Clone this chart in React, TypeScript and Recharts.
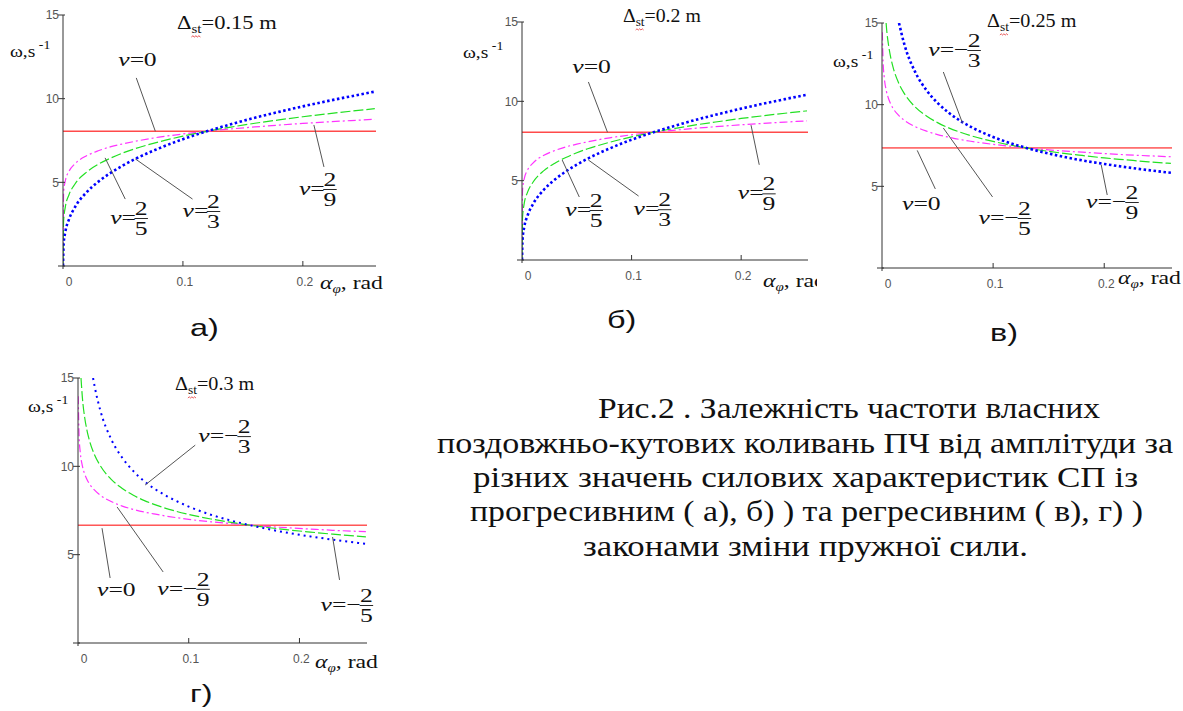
import React from 'react';
import { LineChart, Line, XAxis, YAxis, ReferenceLine, ReferenceDot } from 'recharts';

// amplitude grid (rad) and frequency values (1/s)
const alphaAB = [0, 0.0005, 0.002, 0.005, 0.01, 0.02, 0.03, 0.04, 0.05, 0.06, 0.08, 0.1, 0.12, 0.14, 0.16, 0.18, 0.2, 0.22, 0.24, 0.26];
const omegaAB_23 = [0, 1.3, 2.06, 2.79, 3.52, 4.43, 5.07, 5.58, 6.01, 6.39, 7.03, 7.58, 8.05, 8.47, 8.86, 9.21, 9.54, 9.85, 10.14, 10.42];
const omegaAB_25 = [0, 2.69, 3.55, 4.26, 4.9, 5.63, 6.1, 6.46, 6.76, 7.01, 7.42, 7.76, 8.05, 8.3, 8.53, 8.73, 8.92, 9.09, 9.25, 9.4];
const omegaAB_29 = [0, 4.38, 5.11, 5.66, 6.11, 6.6, 6.9, 7.13, 7.3, 7.45, 7.7, 7.89, 8.05, 8.19, 8.31, 8.42, 8.52, 8.61, 8.69, 8.77];

const alphaFlat = [0, 0.261];
const omegaAB_0 = [8.05, 8.05];
const omegaC_0 = [7.35, 7.35];
const omegaD_0 = [6.67, 6.67];

const alphaC_23 = [0.0153, 0.02, 0.03, 0.04, 0.05, 0.06, 0.07, 0.08, 0.1, 0.12, 0.13, 0.14, 0.16, 0.18, 0.2, 0.22, 0.24, 0.26];
const omegaC_23 = [15.0, 13.72, 11.98, 10.89, 10.11, 9.51, 9.03, 8.64, 8.02, 7.55, 7.35, 7.17, 6.86, 6.59, 6.37, 6.17, 5.99, 5.83];
const alphaC_25 = [0.0037, 0.004, 0.006, 0.008, 0.01, 0.015, 0.02, 0.03, 0.04, 0.05, 0.06, 0.07, 0.08, 0.1, 0.12, 0.13, 0.14, 0.16, 0.18, 0.2, 0.22, 0.24, 0.26];
const omegaC_25 = [15.0, 14.74, 13.6, 12.84, 12.28, 11.32, 10.69, 9.85, 9.31, 8.9, 8.58, 8.32, 8.1, 7.75, 7.47, 7.35, 7.24, 7.05, 6.89, 6.74, 6.62, 6.5, 6.4];
const alphaC_29 = [0.0003, 0.001, 0.002, 0.004, 0.006, 0.008, 0.01, 0.015, 0.02, 0.03, 0.04, 0.05, 0.06, 0.07, 0.08, 0.1, 0.12, 0.13, 0.14, 0.16, 0.18, 0.2, 0.22, 0.24, 0.26];
const omegaC_29 = [14.43, 12.62, 11.69, 10.82, 10.35, 10.02, 9.77, 9.34, 9.05, 8.65, 8.38, 8.17, 8.01, 7.87, 7.76, 7.57, 7.42, 7.35, 7.29, 7.18, 7.09, 7.01, 6.93, 6.87, 6.81];

const alphaD_23 = [0.0136, 0.015, 0.02, 0.03, 0.04, 0.05, 0.06, 0.07, 0.08, 0.1, 0.12, 0.14, 0.155, 0.17, 0.19, 0.21, 0.23, 0.26];
const omegaD_23 = [15.0, 14.53, 13.2, 11.53, 10.48, 9.73, 9.15, 8.69, 8.32, 7.72, 7.26, 6.9, 6.67, 6.47, 6.23, 6.03, 5.85, 5.61];
const alphaD_25 = [0.0027, 0.004, 0.006, 0.008, 0.01, 0.015, 0.02, 0.03, 0.04, 0.05, 0.06, 0.07, 0.08, 0.1, 0.12, 0.14, 0.155, 0.17, 0.19, 0.21, 0.23, 0.26];
const omegaD_25 = [15.0, 13.86, 12.78, 12.07, 11.54, 10.64, 10.05, 9.26, 8.75, 8.36, 8.06, 7.82, 7.61, 7.28, 7.02, 6.81, 6.67, 6.55, 6.4, 6.28, 6.16, 6.01];
const alphaD_29 = [0.0002, 0.001, 0.002, 0.004, 0.006, 0.008, 0.01, 0.015, 0.02, 0.03, 0.04, 0.05, 0.06, 0.07, 0.08, 0.1, 0.12, 0.14, 0.155, 0.17, 0.19, 0.21, 0.23, 0.26];
const omegaD_29 = [13.97, 11.68, 10.82, 10.01, 9.57, 9.27, 9.04, 8.65, 8.37, 8.01, 7.75, 7.56, 7.41, 7.29, 7.18, 7.0, 6.86, 6.75, 6.67, 6.6, 6.52, 6.45, 6.38, 6.3];

const xTicks = [0, 0.1, 0.2];
const yTicks = [0, 5, 10, 15];

const captionLines = [
  'Рис.2 . Залежність частоти власних',
  'поздовжньо-кутових коливань ПЧ від амплітуди за',
  'різних значень силових характеристик СП із',
  'прогресивним ( а), б) ) та регресивним ( в), г) )',
  'законами зміни пружної сили.',
];

const SERIF = 'Liberation Serif';
const SANS = 'Liberation Sans';

const pts = (xs: number[], ys: number[]) => xs.map((x, i) => ({ x, y: ys[i] }));

type Lab = { x: number; y: number; zero?: boolean; neg?: boolean; den?: number };
type Seg = [number, number, number, number];

// annotation positions (data coords)
const labelsA: Lab[] = [
  { x: 0.046, y: 12.3, zero: true },
  { x: 0.0393, y: 2.87, den: 5 },
  { x: 0.0996, y: 3.29, den: 3 },
  { x: 0.1967, y: 4.6, den: 9 },
];
const leadersA: Seg[] = [
  [0.0611, 11.24, 0.077, 8.05],
  [0.0519, 4.0, 0.0351, 6.46],
  [0.108, 4.0, 0.0603, 6.4],
  [0.2176, 5.92, 0.2092, 8.43],
];
const labelsB: Lab[] = [
  { x: 0.0459, y: 12.16, zero: true },
  { x: 0.0394, y: 3.15, den: 5 },
  { x: 0.1018, y: 3.2, den: 3 },
  { x: 0.197, y: 4.2, den: 9 },
];
const leadersB: Seg[] = [
  [0.0606, 11.22, 0.078, 8.05],
  [0.0523, 3.97, 0.0367, 6.3],
  [0.1064, 4.03, 0.0606, 6.3],
  [0.2165, 6.0, 0.209, 8.5],
];
const labelsC: Lab[] = [
  { x: 0.0416, y: 13.35, neg: true, den: 3 },
  { x: 0.0181, y: 3.92, zero: true },
  { x: 0.0869, y: 3.06, neg: true, den: 5 },
  { x: 0.1837, y: 4.04, neg: true, den: 9 },
];
const leadersC: Seg[] = [
  [0.0552, 12.0, 0.0724, 8.88],
  [0.048, 4.84, 0.0317, 7.2],
  [0.0995, 4.35, 0.0552, 8.57],
  [0.2027, 4.47, 0.1973, 6.31],
];
const labelsD: Lab[] = [
  { x: 0.1086, y: 11.71, neg: true, den: 3 },
  { x: 0.0172, y: 3.0, zero: true },
  { x: 0.0715, y: 3.07, neg: true, den: 9 },
  { x: 0.219, y: 2.15, neg: true, den: 5 },
];
const leadersD: Seg[] = [
  [0.1059, 11.2, 0.0606, 8.94],
  [0.029, 3.68, 0.0217, 6.5],
  [0.0769, 4.02, 0.0353, 7.7],
  [0.2362, 3.57, 0.2299, 6.0],
];

function XTick(props: any) {
  const { x, y, payload } = props;
  const v = payload.value;
  return (
    <g>
      <line x1={x} x2={x} y1={y} y2={v === 0 ? y + 3 : y - 5} stroke="#333" />
      <text x={x + (v === 0 ? 6 : 2)} y={y + 20} textAnchor="middle" fontFamily={SANS} fontSize={12} fill="#555">
        {String(v)}
      </text>
    </g>
  );
}

function YTick(props: any) {
  const { x, y, payload } = props;
  const v = payload.value;
  return (
    <g>
      <line x1={x - 5} x2={x + 2} y1={y} y2={y} stroke="#333" />
      {v > 0 && (
        <text x={x - 4} y={y} dy="0.35em" textAnchor="end" fontFamily={SANS} fontSize={12} fill="#555">
          {v}
        </text>
      )}
    </g>
  );
}

function NuLabel({ cx, cy, lab }: { cx: number; cy: number; lab: Lab }) {
  const fs = 19;
  const fx = lab.neg ? 34 : 23;
  return (
    <g transform={`translate(${cx},${cy}) scale(1.35,1)`} fontFamily={SERIF} fill="#111">
      <text x={0} y={6} fontSize={fs} fontStyle="italic" fontFamily={SERIF}>ν</text>
      <text x={8.5} y={6} fontSize={fs} fontFamily={SERIF}>=</text>
      {lab.zero ? (
        <text x={19} y={6} fontSize={fs} fontFamily={SERIF}>0</text>
      ) : (
        <g>
          {lab.neg && <text x={19} y={6} fontSize={fs} fontFamily={SERIF}>−</text>}
          <text x={fx} y={-3} textAnchor="middle" fontSize={fs} fontFamily={SERIF}>2</text>
          <line x1={fx - 5} x2={fx + 5} y1={0.5} y2={0.5} stroke="#111" strokeWidth={0.9} />
          <text x={fx} y={17} textAnchor="middle" fontSize={fs} fontFamily={SERIF}>{lab.den}</text>
        </g>
      )}
    </g>
  );
}

type PanelProps = {
  left: number; top: number; w: number; h: number;
  margin: { top: number; right: number; bottom: number; left: number };
  blue: { x: number; y: number }[];
  green: { x: number; y: number }[];
  pink: { x: number; y: number }[];
  red: { x: number; y: number }[];
  labels: Lab[]; leaders: Seg[];
  thinRed?: boolean;
  thinBlue?: boolean;
};

function Panel(p: PanelProps) {
  return (
    <div style={{ position: 'absolute', left: p.left, top: p.top }}>
      <LineChart width={p.w} height={p.h} margin={p.margin}>
        <XAxis type="number" dataKey="x" domain={[0, 0.261]} ticks={xTicks} interval={0} height={1}
          tickSize={0} tickMargin={0} tickLine={false} tick={<XTick />} axisLine={{ stroke: '#333' }} allowDataOverflow />
        <YAxis type="number" domain={[0, 15]} ticks={yTicks} interval={0} width={1}
          tickSize={0} tickMargin={0} tickLine={false} tick={<YTick />} axisLine={{ stroke: '#333' }} allowDataOverflow />
        <Line data={p.red} dataKey="y" type="linear" stroke={p.thinRed ? '#ff0000' : '#ff4a4a'}
          strokeWidth={p.thinRed ? 1 : 1.6} dot={false} isAnimationActive={false} />
        <Line data={p.pink} dataKey="y" type="monotone" stroke="#ff33ff" strokeWidth={1.2}
          strokeDasharray="8 3 2 3" dot={false} isAnimationActive={false} />
        <Line data={p.green} dataKey="y" type="monotone" stroke="#22e022" strokeWidth={1.2}
          strokeDasharray="10 3" dot={false} isAnimationActive={false} />
        <Line data={p.blue} dataKey="y" type="monotone" stroke="#0000ff"
          strokeWidth={p.thinBlue ? 2 : 2.6} strokeDasharray={p.thinBlue ? '2 4' : '2.5 2.5'} dot={false} isAnimationActive={false} />
        {p.leaders.map((s, i) => (
          <ReferenceLine key={'l' + i} segment={[{ x: s[0], y: s[1] }, { x: s[2], y: s[3] }]}
            stroke="#555" strokeWidth={1} ifOverflow="visible" />
        ))}
        {p.labels.map((lab, i) => (
          <ReferenceDot key={'d' + i} x={lab.x} y={lab.y} r={0} ifOverflow="visible"
            shape={(sp: any) => <NuLabel cx={sp.cx} cy={sp.cy} lab={lab} />} />
        ))}
      </LineChart>
    </div>
  );
}

function Title({ x, y, val, sx }: { x: number; y: number; val: string; sx: number }) {
  return (
    <g transform={`translate(${x},${y}) scale(${sx},1)`} fill="#111">
      <text fontSize={18} fontFamily={SERIF}>
        Δ<tspan fontSize={12} dy={4}>st</tspan>
        <tspan dy={-4}>={val} m</tspan>
      </text>
      <path d="M11.5,8 l1.2,-1.2 l1.2,1.2 l1.2,-1.2 l1.2,1.2 l1.2,-1.2 l1.2,1.2" stroke="#e02020" strokeWidth={0.7} fill="none" />
    </g>
  );
}

function OmegaLabel({ x, y }: { x: number; y: number }) {
  return (
    <g transform={`translate(${x},${y}) scale(1.15,1)`} fill="#111">
      <text fontSize={17} fontFamily={SERIF}>
        ω,s<tspan fontSize={12} dy={-8}> -1</tspan>
      </text>
    </g>
  );
}

function AlphaLabel({ x, y }: { x: number; y: number }) {
  return (
    <g transform={`translate(${x},${y}) scale(1.25,1)`} fill="#111">
      <text fontSize={19} fontFamily={SERIF}>
        <tspan fontStyle="italic">α</tspan>
        <tspan fontSize={12} fontStyle="italic" dy={4}>φ</tspan>
        <tspan dy={-4}>, rad</tspan>
      </text>
    </g>
  );
}

function Letter({ x, y, t }: { x: number; y: number; t: string }) {
  return (
    <g transform={`translate(${x},${y}) scale(1.35,1)`}>
      <text fontFamily={SANS} fontSize={24} fill="#111">{t}</text>
    </g>
  );
}

const captionPos = [
  { x: 598, y: 418, w: 502 },
  { x: 437, y: 453, w: 736 },
  { x: 473, y: 487, w: 665 },
  { x: 470, y: 521, w: 673 },
  { x: 583, y: 556, w: 445 },
];

export default function App() {
  return (
    <div style={{ position: 'absolute', left: 0, top: 0, width: 1183, height: 711, background: '#fff', overflow: 'hidden' }}>
      <Panel left={0} top={0} w={400} h={300} margin={{ top: 15, right: 24, bottom: 33, left: 62 }}
        blue={pts(alphaAB, omegaAB_23)} green={pts(alphaAB, omegaAB_25)} pink={pts(alphaAB, omegaAB_29)}
        red={pts(alphaFlat, omegaAB_0)} labels={labelsA} leaders={leadersA} />
      <Panel left={420} top={0} w={397} h={300} margin={{ top: 22, right: 9, bottom: 39, left: 101 }}
        blue={pts(alphaAB, omegaAB_23)} green={pts(alphaAB, omegaAB_25)} pink={pts(alphaAB, omegaAB_29)}
        red={pts(alphaFlat, omegaAB_0)} labels={labelsB} leaders={leadersB} />
      <Panel left={817} top={0} w={366} h={300} margin={{ top: 23, right: 11, bottom: 31, left: 64 }}
        blue={pts(alphaC_23, omegaC_23)} green={pts(alphaC_25, omegaC_25)} pink={pts(alphaC_29, omegaC_29)}
        red={pts(alphaFlat, omegaC_0)} labels={labelsC} leaders={leadersC} thinRed />
      <Panel left={0} top={360} w={400} h={330} margin={{ top: 18, right: 33, bottom: 46, left: 77 }}
        blue={pts(alphaD_23, omegaD_23)} green={pts(alphaD_25, omegaD_25)} pink={pts(alphaD_29, omegaD_29)}
        red={pts(alphaFlat, omegaD_0)} labels={labelsD} leaders={leadersD} thinRed thinBlue />

      <svg width={1183} height={711} style={{ position: 'absolute', left: 0, top: 0, pointerEvents: 'none' }}>
        <defs>
          <clipPath id="clipB"><rect x={0} y={0} width={817} height={711} /></clipPath>
        </defs>
        <Title x={177} y={29} val="0.15" sx={1.25} />
        <Title x={623} y={22} val="0.2" sx={1.1} />
        <Title x={987} y={27} val="0.25" sx={1.12} />
        <Title x={175} y={390} val="0.3" sx={1.12} />

        <OmegaLabel x={10} y={57} />
        <OmegaLabel x={463} y={58} />
        <OmegaLabel x={833} y={67} />
        <OmegaLabel x={28} y={412} />

        <AlphaLabel x={320} y={289} />
        <g clipPath="url(#clipB)"><AlphaLabel x={763} y={287} /></g>
        <AlphaLabel x={1118} y={284} />
        <AlphaLabel x={315} y={668} />

        <Letter x={190} y={336} t="а)" />
        <Letter x={607} y={328} t="б)" />
        <Letter x={990} y={341} t="в)" />
        <Letter x={190} y={702} t="г)" />

        {captionLines.map((line, i) => (
          <text key={i} x={captionPos[i].x} y={captionPos[i].y} textLength={captionPos[i].w}
            lengthAdjust="spacingAndGlyphs" fontFamily={SERIF} fontSize={29} fill="#111">
            {line}
          </text>
        ))}
      </svg>
    </div>
  );
}
